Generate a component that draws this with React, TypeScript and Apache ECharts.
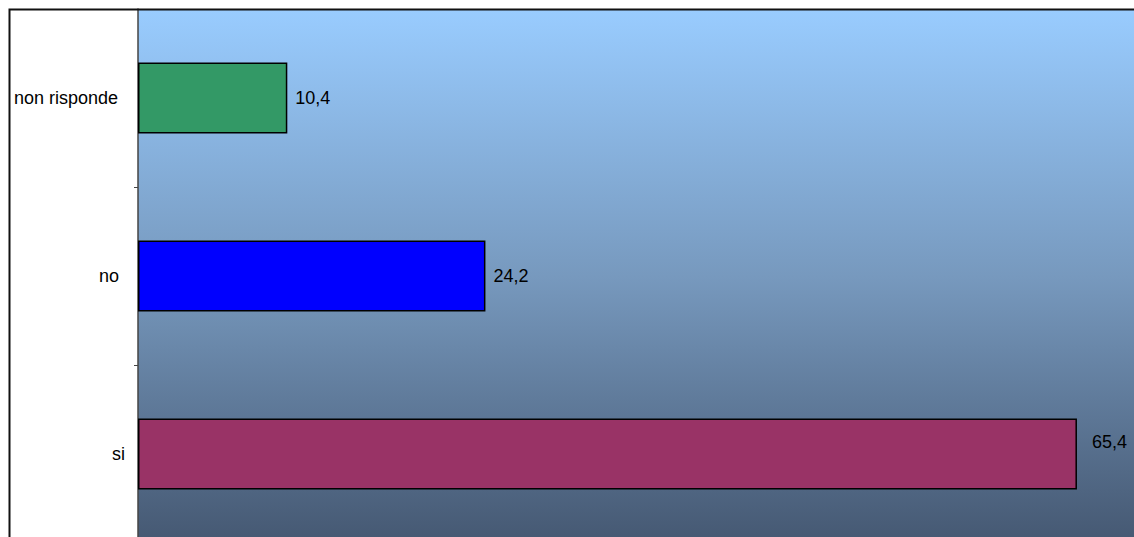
import React, { useEffect, useRef } from "react";
import * as echarts from "echarts";

const categories = ["si", "no", "non risponde"];
const values = [65.4, 24.2, 10.4];
const barColors = ["#993366", "#0000FF", "#339966"];

export default function App() {
  const ref = useRef<HTMLDivElement>(null);
  useEffect(() => {
    document.body.style.margin = "0";
    const chart = echarts.init(ref.current!, null, { renderer: "svg" });
    const font = "Liberation Sans, Arial, sans-serif";
    chart.setOption({
      animation: false,
      grid: {
        left: 138,
        top: 9,
        right: 17,
        bottom: 17,
        show: true,
        borderWidth: 0,
        backgroundColor: new echarts.graphic.LinearGradient(0, 0, 0, 1, [
          { offset: 0, color: "#99CCFF" },
          { offset: 0.5, color: "#7799BE" },
          { offset: 1, color: "#455872" },
        ]),
      },
      xAxis: {
        type: "value",
        min: 0,
        max: 70,
        axisLine: { show: false },
        axisTick: { show: false },
        axisLabel: { show: false },
        splitLine: { show: false },
      },
      yAxis: {
        type: "category",
        data: categories,
        axisLine: { show: true, lineStyle: { color: "#444444", width: 1.5 } },
        axisTick: { show: true, length: 4, lineStyle: { color: "#444444" } },
        axisLabel: {
          color: "#000",
          fontFamily: font,
          fontSize: 18,
          margin: 13,
          formatter: (v: string) =>
            v === "si" ? "{a|" + v + "}" : v === "no" ? "{b|" + v + "}" : "{c|" + v + "}",
          rich: {
            a: { fontFamily: font, fontSize: 18, color: "#000" },
            b: { fontFamily: font, fontSize: 18, color: "#000", padding: [0, 6, 0, 0] },
            c: { fontFamily: font, fontSize: 18, color: "#000", padding: [0, 7, 0, 0] },
          },
        },
      },
      series: [
        {
          type: "bar",
          data: values.map((v, i) => ({
            value: v,
            itemStyle: { color: barColors[i] },
            label: i === 0 ? { offset: [7, -12] } : {},
          })),
          barWidth: 71,
          itemStyle: { borderColor: "#000", borderWidth: 1.5 },
          label: {
            show: true,
            position: "right",
            distance: 8,
            color: "#000",
            fontFamily: font,
            fontSize: 18,
            formatter: (p: any) => String(p.value).replace(".", ","),
          },
        },
      ],
      graphic: [
        {
          type: "polyline",
          shape: { points: [[9.5, 560], [9.5, 9.5], [1160, 9.5]] },
          style: { stroke: "#111", lineWidth: 2, fill: null },
          z: 100,
        },
      ],
    });
    return () => chart.dispose();
  }, []);
  return (
    <div
      style={{
        position: "absolute",
        left: 0,
        top: 0,
        width: 1134,
        height: 537,
        overflow: "hidden",
      }}
    >
      <div ref={ref} style={{ width: 1160, height: 560 }} />
    </div>
  );
}
